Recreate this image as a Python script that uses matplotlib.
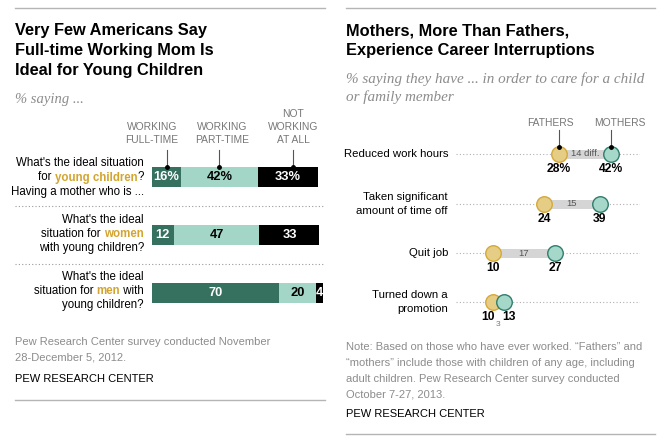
import matplotlib
matplotlib.use("Agg")
import matplotlib.pyplot as plt
import numpy as np

# left chart data
full_time = [16, 12, 70]
part_time = [42, 47, 20]
not_working = [33, 33, 4]

# right chart data
interruptions = ["Reduced work hours", "Taken significant\namount of time off",
                 "Quit job", "Turned down a\npromotion"]
fathers = [28, 24, 10, 10]
mothers = [42, 39, 27, 13]

DARK = "#36705f"
LIGHT = "#a3d6c7"
GOLD = "#d3a530"
GRAY = "#8c8c8c"
SANS = "Liberation Sans"
SERIF = "Liberation Serif"

W, H = 666, 441
fig = plt.figure(figsize=(W / 100, H / 100), dpi=100)
bg = fig.add_axes([0, 0, 1, 1])
bg.set_xlim(0, W)
bg.set_ylim(H, 0)
bg.axis("off")


def txt(x, y, s, size=8.2, color="black", ha="left", va="center", **kw):
    kw.setdefault("family", SANS)
    return bg.text(x, y, s, fontsize=size, color=color, ha=ha, va=va, **kw)


def rich_right(x, y, pieces, size=8.3):
    # pieces drawn right to left, last piece anchored at x
    prev = None
    for s, col in reversed(pieces):
        w = "bold" if col == GOLD else "normal"
        if prev is None:
            prev = bg.text(x, y, s, fontsize=size, color=col, ha="right",
                           va="center", family=SANS, fontweight=w)
        else:
            prev = bg.annotate(s, xy=(0, 0), xycoords=prev, ha="right",
                               va="bottom", fontsize=size, color=col,
                               family=SANS, fontweight=w)


# frame lines
for x0, x1 in [(15, 325), (346, 655)]:
    bg.plot([x0, x1], [8, 8], color="#b5b5b5", lw=1)
bg.plot([15, 325], [400, 400], color="#b5b5b5", lw=1)
bg.plot([346, 655], [434, 434], color="#b5b5b5", lw=1)

# ---------------- left panel ----------------
for i, line in enumerate(["Very Few Americans Say", "Full-time Working Mom Is",
                          "Ideal for Young Children"]):
    txt(15, 31 + i * 20, line, size=11.8, fontweight="bold")
txt(15, 100, "% saying ...", size=10.5, color=GRAY, family=SERIF, style="italic")

hdr = dict(size=7.4, color="#777777", ha="center", va="bottom", linespacing=1.4)
txt(152, 145, "WORKING\nFULL-TIME", **hdr)
txt(222, 145, "WORKING\nPART-TIME", **hdr)
txt(293, 145, "NOT\nWORKING\nAT ALL", **hdr)

rows_y = [177, 234.5, 293]
axL = fig.add_axes([152 / W, 0, 182 / W, 1])
axL.set_xlim(0, 100)
axL.set_ylim(H, 0)
axL.axis("off")
ft = np.array(full_time)
pt = np.array(part_time)
nw = np.array(not_working)
axL.barh(rows_y, ft, height=20, color=DARK)
axL.barh(rows_y, pt, left=ft, height=20, color=LIGHT)
axL.barh(rows_y, nw, left=ft + pt, height=20, color="black")
for i, y in enumerate(rows_y):
    suf = "%" if i == 0 else ""
    lab = dict(ha="center", va="center", fontsize=9.3, fontweight="bold",
               family=SANS)
    axL.text(ft[i] / 2, y, f"{ft[i]}{suf}", color="white", **lab)
    axL.text(ft[i] + pt[i] / 2, y, f"{pt[i]}{suf}", color="black", **lab)
    axL.text(ft[i] + pt[i] + nw[i] / 2, y, f"{nw[i]}{suf}", color="white",
             **lab)

# pointer ticks from headers to the first bar
top = rows_y[0] - 10
for cx in [ft[0] / 2, ft[0] + pt[0] / 2, ft[0] + pt[0] + nw[0] / 2 + 3]:
    axL.plot([cx, cx], [150, top], color="#555555", lw=0.8)
    axL.plot(cx, top, "o", color="black", ms=2.5)

rich_right(144, 163, [("What's the ideal situation", "black")])
rich_right(144, 177.5, [("for ", "black"), ("young children", GOLD), ("?", "black")])
rich_right(144, 191.5, [("Having a mother who is ...", "black")])
rich_right(144, 220, [("What's the ideal", "black")])
rich_right(144, 234, [("situation for ", "black"), ("women", GOLD)])
rich_right(144, 248, [("with young children?", "black")])
rich_right(144, 277, [("What's the ideal", "black")])
rich_right(144, 291, [("situation for ", "black"), ("men", GOLD), (" with", "black")])
rich_right(144, 305, [("young children?", "black")])

for y in [205.5, 264]:
    bg.plot([15, 323], [y, y], color="#9a9a9a", lw=0.8, ls=(0, (1, 2)))

txt(15, 337, "Pew Research Center survey conducted November\n28-December 5, 2012.",
    size=8, color=GRAY, va="top", linespacing=1.7)
txt(15, 379, "PEW RESEARCH CENTER", size=8)

# ---------------- right panel ----------------
txt(346, 31, "Mothers, More Than Fathers,", size=11.8, fontweight="bold")
txt(346, 51, "Experience Career Interruptions", size=11.8, fontweight="bold")
txt(346, 79, "% saying they have ... in order to care for a child",
    size=10.9, color=GRAY, family=SERIF, style="italic")
txt(346, 97, "or family member", size=10.9, color=GRAY, family=SERIF,
    style="italic")

dot_y = [154, 204, 253, 302]
axR = fig.add_axes([456 / W, 0, 184 / W, 1])
axR.set_xlim(0, 50)
axR.set_ylim(H, 0)
axR.axis("off")
for i, y in enumerate(dot_y):
    f, m = fathers[i], mothers[i]
    d = m - f
    axR.plot([0, 50], [y, y], color="#b0b0b0", lw=0.8, ls=(0, (1, 2)),
             zorder=1)
    axR.barh(y, d, left=f, height=9, color="#d5d5d5", zorder=2)
    axR.scatter([f], [y], s=125, color="#e6cd86", edgecolor="#d4a93a",
                lw=1, zorder=3)
    axR.scatter([m], [y], s=125, color="#a6d8c9", edgecolor="#2f7d6d",
                lw=1, zorder=4)
    suf = "%" if i == 0 else ""
    off = 1.4 if d < 5 else 0
    vl = dict(ha="center", va="center", fontsize=8.7, fontweight="bold",
              family=SANS)
    axR.text(f - off, y + 15, f"{f}{suf}", **vl)
    axR.text(m + off, y + 15, f"{m}{suf}", **vl)
    if i == 0:
        axR.text((f + m) / 2, y, f"{d} diff.", ha="center", va="center",
                 fontsize=6.8, color="#555555", family=SANS, zorder=5)
    elif d > 5:
        axR.text((f + m) / 2, y, f"{d}", ha="center", va="center",
                 fontsize=6.8, color="#555555", family=SANS, zorder=5)
    else:
        axR.text((f + m) / 2, y + 23, f"{d}", ha="center", va="center",
                 fontsize=6, color="#777777", family=SANS)

# header pointers
for v, lab, tx in [(fathers[0], "FATHERS", 550), (mothers[0], "MOTHERS", 620)]:
    axR.plot([v, v], [130, 146], color="#555555", lw=0.8, zorder=5)
    axR.plot(v, 146.5, "o", color="black", ms=2.5, zorder=6)
    txt(tx, 123, lab, size=7.4, color="#777777", ha="center")

for lab, y in zip(interruptions, dot_y):
    txt(448, y, lab, ha="right", linespacing=1.5)

note = ("Note: Based on those who have ever worked. \u201cFathers\u201d and\n"
        "\u201cmothers\u201d include those with children of any age, including\n"
        "adult children. Pew Research Center survey conducted\n"
        "October 7-27, 2013.")
txt(346, 342, note, size=8, color=GRAY, va="top", linespacing=1.72)
txt(346, 414, "PEW RESEARCH CENTER", size=8)

fig.savefig("out.png", dpi=100)
